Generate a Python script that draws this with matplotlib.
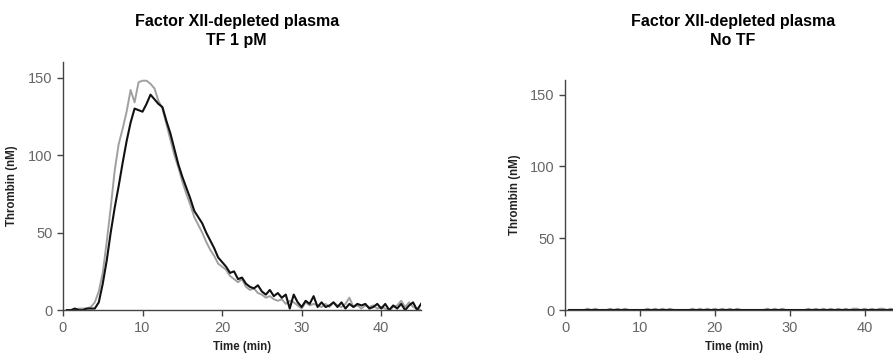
import numpy as np
import matplotlib
matplotlib.use("Agg")
from matplotlib import pyplot as plt

plt.rcParams['font.family'] = ['Liberation Sans', 'DejaVu Sans']

# time axis (min), every 0.5 min
t = np.arange(0.5, 45.01, 0.5)

# TF 1 pM, factor XII-depleted plasma
black_tf = [0, 0, 1, 0, 0, 1, 1, 1, 5, 17,
            32, 50, 66, 80, 95, 109, 121, 130, 129, 128,
            133, 139, 136, 133, 131, 122, 114, 104, 94, 86,
            79, 72, 64, 60, 56, 50, 45, 40, 34, 31,
            28, 24, 25, 20, 21, 17, 15, 14, 16, 12,
            10, 13, 9, 11, 8, 10, 1, 10, 5, 2,
            6, 4, 9, 2, 5, 2, 3, 5, 2, 5,
            1, 4, 2, 4, 3, 4, 1, 2, 4, 1,
            4, 0, 3, 1, 4, 0, 3, 5, 0, 4]
gray_tf = [0, 0, 0, 1, 1, 1, 2, 5, 12, 24,
           44, 66, 90, 107, 117, 128, 142, 134, 147, 148,
           148, 146, 143, 135, 130, 120, 110, 100, 92, 83,
           75, 68, 60, 55, 50, 44, 39, 35, 30, 28,
           26, 22, 20, 18, 20, 15, 13, 14, 11, 10,
           8, 9, 7, 6, 7, 4, 6, 5, 3, 1,
           5, 3, 4, 3, 2, 4, 2, 5, 3, 2,
           4, 8, 2, 3, 1, 3, 2, 3, 1, 2,
           1, 0, 2, 3, 6, 2, 5, 2, 1, 0]

# No TF
black_notf = [0] * len(t)
gray_notf = [0, 0, 0, 0, 0, 1, 0, 1, 0, 0,
             0, 1, 0, 1, 0, 1, 0, 0, 0, 0,
             0, 1, 0, 1, 0, 1, 0, 1, 0, 0,
             0, 0, 0, 1, 0, 1, 0, 1, 0, 1,
             0, 1, 0, 1, 0, 1, 0, 0, 0, 0,
             0, 0, 0, 1, 0, 1, 0, 1, 0, 0,
             0, 0, 0, 0, 1, 0, 1, 0, 1, 0,
             1, 0, 1, 0, 1, 0, 1, 1, 0, 1,
             0, 1, 0, 1, 1, 0, 1, 0, 1, 0]

fig = plt.figure(figsize=(8.93, 3.61), dpi=100)

ax1 = fig.add_axes([0.0705, 0.141, 0.401, 0.687])
ax2 = fig.add_axes([0.633, 0.141, 0.377, 0.637])

panels = [(ax1, gray_tf, black_tf),
          (ax2, gray_notf, black_notf)]

for ax, g, b in panels:
    ax.plot(t, g, color='#a0a0a0', lw=1.4)
    ax.plot(t, b, color='#111111', lw=1.5)
    ax.set_xlim(0, 45)
    ax.set_ylim(0, 160)
    ax.set_xticks([0, 10, 20, 30, 40])
    ax.set_yticks([0, 50, 100, 150])
    for s in ['top', 'right']:
        ax.spines[s].set_visible(False)
    for s in ['left', 'bottom']:
        ax.spines[s].set_color('#444444')
        ax.spines[s].set_linewidth(1.0)
    ax.tick_params(direction='out', length=4, width=1.0, color='#444444',
                   labelcolor='#666666', labelsize=10.5)
    ax.set_xlabel("Time (min)", fontsize=8.3, fontweight='bold', color='#222222', labelpad=5)
    ax.set_ylabel("Thrombin (nM)", fontsize=8.3, fontweight='bold', color='#222222', labelpad=7)

fig.text(0.265, 0.962, "Factor XII-depleted plasma\nTF 1 pM", ha='center', va='top',
         fontsize=11.5, fontweight='bold', linespacing=1.35)
fig.text(0.821, 0.962, "Factor XII-depleted plasma\nNo TF", ha='center', va='top',
         fontsize=11.5, fontweight='bold', linespacing=1.35)

fig.savefig("out.png", dpi=100)
